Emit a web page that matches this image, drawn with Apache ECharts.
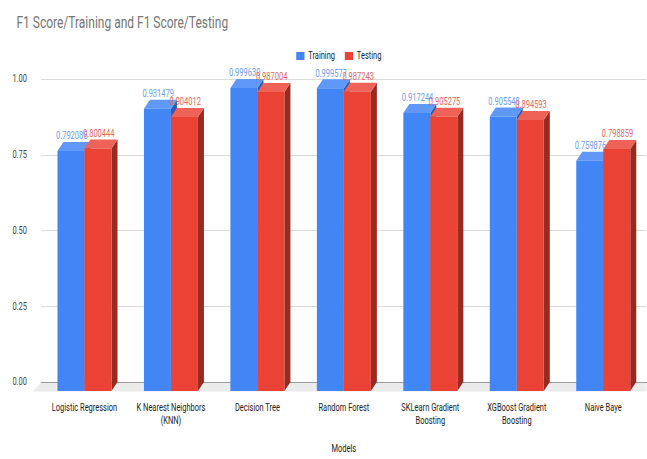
<!DOCTYPE html>
<html>
<head>
<meta charset="utf-8">
<script src="https://cdn.jsdelivr.net/npm/echarts@6/dist/echarts.min.js"></script>
<style>
  html, body { margin: 0; padding: 0; background: #fff; overflow: hidden; }
  /* the source chart is a squeezed Google Sheets chart, so draw wide and squeeze */
  #chart { width: 863px; height: 459px; transform: scaleX(0.75); transform-origin: 0 0; }
</style>
</head>
<body>
<div id="chart"></div>
<script>
const categories = [
  'Logistic Regression',
  'K Nearest Neighbors\n(KNN)',
  'Decision Tree',
  'Random Forest',
  'SKLearn Gradient\nBoosting',
  'XGBoost Gradient\nBoosting',
  'Naive Baye'
];
const training = [0.792085, 0.931479, 0.999630, 0.999577, 0.917244, 0.905548, 0.759876];
const testing = [0.800444, 0.904012, 0.987004, 0.987243, 0.905275, 0.894593, 0.798859];
const yTicks = [0, 0.25, 0.5, 0.75, 1];

// bar geometry (unscaled px)
const BW = 36;   // front face width
const DX = 8;    // depth offset x
const DY = 9;    // depth offset y

const styles = {
  Training: { front: '#4285f4', top: '#5f98f6', side: '#2b5cb8', label: '#6d9eee' },
  Testing: { front: '#ea4335', top: '#ee6257', side: '#972a21', label: '#e5675d' }
};

// 3D bar: side, top and front faces
function barRender(name, shift) {
  const st = styles[name];
  return function (params, api) {
    const i = api.value(0);
    const v = api.value(1);
    const base = api.coord([i, 0]);
    const tip = api.coord([i, v]);
    const left = base[0] + shift;
    const right = left + BW;
    const top = tip[1] + DY;
    const bottom = base[1] + DY;
    const children = [];
    if (name === 'Training' && params.dataIndex === 0) {
      // grey floor under the bars
      const cs = params.coordSys;
      const y0 = base[1] + 0.5;
      children.push({
        type: 'polygon',
        shape: { points: [[cs.x, y0], [cs.x + cs.width, y0], [cs.x + cs.width, y0 + DY], [cs.x - DX * 1.4, y0 + DY]] },
        style: { fill: '#ebebeb' }
      });
    }
    children.push({
      type: 'polygon',
      shape: { points: [[right, top], [right + DX, top - DY], [right + DX, bottom - DY], [right, bottom]] },
      style: { fill: st.side }
    });
    children.push({
      type: 'polygon',
      shape: { points: [[left, top], [right, top], [right + DX, top - DY], [left + DX, top - DY]] },
      style: { fill: st.top }
    });
    children.push({
      type: 'rect',
      shape: { x: left, y: top, width: BW, height: bottom - top },
      style: { fill: st.front }
    });
    return { type: 'group', children: children };
  };
}

// value labels, drawn in their own series so they sit above every bar
function labelRender(name, shift) {
  const st = styles[name];
  return function (params, api) {
    const i = api.value(0);
    const v = api.value(1);
    const tip = api.coord([i, v]);
    return {
      type: 'text',
      style: {
        x: tip[0] + shift + BW / 2 + 1,
        y: tip[1] - 6,
        text: v.toFixed(6),
        align: 'center',
        verticalAlign: 'middle',
        fontSize: 10,
        fontFamily: 'Roboto',
        fill: st.label
      }
    };
  };
}

const chart = echarts.init(document.getElementById('chart'), null, { renderer: 'svg' });
chart.setOption({
  animation: false,
  textStyle: { fontFamily: 'Roboto' },
  title: {
    text: 'F1 Score/Training and F1 Score/Testing',
    left: 17,
    top: 9,
    textStyle: { fontSize: 16, fontWeight: 'normal', color: '#757575', fontFamily: 'Roboto' }
  },
  legend: {
    data: ['Training', 'Testing'],
    left: 390,
    top: 46,
    icon: 'rect',
    itemWidth: 11,
    itemHeight: 8,
    itemGap: 13,
    textStyle: { fontSize: 10, color: '#222' }
  },
  grid: { left: 55, right: 1, top: 79, bottom: 66 },
  xAxis: {
    type: 'category',
    data: categories,
    name: 'Models',
    nameLocation: 'middle',
    nameGap: 62,
    nameTextStyle: { fontSize: 10, color: '#222' },
    axisTick: { show: false },
    axisLine: { lineStyle: { color: '#333', width: 1 } },
    axisLabel: { interval: 0, fontSize: 10, color: '#222', lineHeight: 13, margin: 19 }
  },
  yAxis: {
    type: 'value',
    min: yTicks[0],
    max: yTicks[yTicks.length - 1],
    interval: 0.25,
    axisLine: { show: false },
    axisTick: { show: false },
    splitLine: { lineStyle: { color: '#d6d6d6' } },
    axisLabel: { fontSize: 10, color: '#444', margin: 19, formatter: v => v.toFixed(2) }
  },
  series: [
    {
      name: 'Training',
      type: 'custom',
      z: 2,
      itemStyle: { color: styles.Training.front },
      encode: { x: 0, y: 1 },
      data: training.map((v, i) => [i, v]),
      renderItem: barRender('Training', -BW)
    },
    {
      name: 'Testing',
      type: 'custom',
      z: 2,
      itemStyle: { color: styles.Testing.front },
      encode: { x: 0, y: 1 },
      data: testing.map((v, i) => [i, v]),
      renderItem: barRender('Testing', 0)
    },
    {
      name: 'Training labels',
      type: 'custom',
      z: 5,
      silent: true,
      encode: { x: 0, y: 1 },
      data: training.map((v, i) => [i, v]),
      renderItem: labelRender('Training', -BW)
    },
    {
      name: 'Testing labels',
      type: 'custom',
      z: 6,
      silent: true,
      encode: { x: 0, y: 1 },
      data: testing.map((v, i) => [i, v]),
      renderItem: labelRender('Testing', 0)
    }
  ]
});
</script>
</body>
</html>
